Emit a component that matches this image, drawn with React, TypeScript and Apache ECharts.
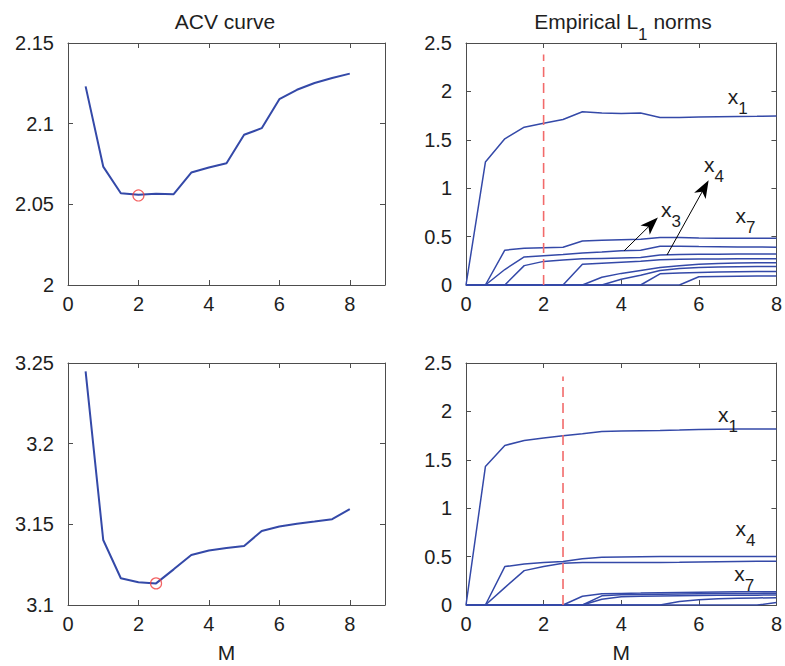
import React, { useEffect, useRef } from "react";
import * as echarts from "echarts";

const FONT = '"Liberation Sans", Arial, Helvetica, sans-serif';
const BLUE = "#3449a8";
const RED = "#f26a6a";
const AXIS = "#4d4d4d";
const TEXT = "#1e1e1e";

// ---------- data ----------
const M_ACV = [0.5, 1, 1.5, 2, 2.5, 3, 3.5, 4, 4.5, 5, 5.5, 6, 6.5, 7, 7.5, 8];
const ACV_TOP = [2.1231, 2.0734, 2.0569, 2.0559, 2.0565, 2.0563, 2.0697, 2.0728, 2.0755, 2.0931, 2.0972, 2.1152, 2.121, 2.1252, 2.1283, 2.131];
const ACV_BOTTOM = [3.2448, 3.1403, 3.1166, 3.1141, 3.1134, 3.1221, 3.131, 3.1338, 3.1354, 3.1366, 3.1459, 3.1486, 3.1503, 3.1517, 3.1532, 3.1594];
const ACV_TOP_MIN = [2, 2.0555];
const ACV_BOTTOM_MIN = [2.5, 3.1134];

const M_L1 = [0, 0.5, 1, 1.5, 2, 2.5, 3, 3.5, 4, 4.5, 5, 5.5, 6, 6.5, 7, 7.5, 8];
const TOP_X1 = [0, 1.27, 1.51, 1.63, 1.67, 1.71, 1.79, 1.776, 1.772, 1.776, 1.731, 1.731, 1.735, 1.738, 1.74, 1.742, 1.745];
const TOP_X7 = [0, 0, 0.36, 0.38, 0.385, 0.39, 0.455, 0.462, 0.468, 0.472, 0.49, 0.49, 0.485, 0.484, 0.483, 0.483, 0.483];
const TOP_X3 = [0, 0, 0.16, 0.29, 0.303, 0.315, 0.33, 0.342, 0.355, 0.36, 0.4, 0.4, 0.397, 0.395, 0.393, 0.392, 0.39];
const TOP_X4 = [0, 0, 0, 0.2, 0.244, 0.258, 0.27, 0.275, 0.28, 0.285, 0.31, 0.315, 0.317, 0.318, 0.319, 0.32, 0.32];
const TOP_D = [0, 0, 0, 0, 0, 0, 0.215, 0.225, 0.235, 0.245, 0.26, 0.265, 0.268, 0.269, 0.27, 0.27, 0.27];
const TOP_E = [0, 0, 0, 0, 0, 0, 0, 0.08, 0.12, 0.15, 0.18, 0.2, 0.215, 0.222, 0.227, 0.229, 0.23];
const TOP_F = [0, 0, 0, 0, 0, 0, 0, 0, 0.06, 0.1, 0.15, 0.17, 0.18, 0.185, 0.188, 0.19, 0.19];
const TOP_G = [0, 0, 0, 0, 0, 0, 0, 0, 0, 0, 0.115, 0.125, 0.13, 0.134, 0.137, 0.139, 0.14];
const TOP_H = [0, 0, 0, 0, 0, 0, 0, 0, 0, 0, 0, 0, 0.085, 0.089, 0.091, 0.092, 0.093];

const BOT_X1 = [0, 1.43, 1.648, 1.7, 1.724, 1.748, 1.769, 1.793, 1.797, 1.8, 1.803, 1.808, 1.814, 1.816, 1.817, 1.817, 1.817];
const BOT_X4 = [0, 0, 0.397, 0.424, 0.438, 0.45, 0.479, 0.493, 0.497, 0.499, 0.5, 0.5, 0.501, 0.501, 0.5, 0.5, 0.5];
const BOT_B = [0, 0, 0.18, 0.355, 0.397, 0.431, 0.438, 0.438, 0.438, 0.439, 0.44, 0.442, 0.445, 0.447, 0.449, 0.451, 0.452];
const BOT_X7 = [0, 0, 0, 0, 0, 0, 0.09, 0.115, 0.12, 0.123, 0.127, 0.13, 0.132, 0.134, 0.136, 0.137, 0.138];
const BOT_D = [0, 0, 0, 0, 0, 0, 0, 0.095, 0.105, 0.108, 0.111, 0.114, 0.116, 0.118, 0.119, 0.12, 0.121];
const BOT_E = [0, 0, 0, 0, 0, 0, 0, 0.06, 0.085, 0.09, 0.093, 0.096, 0.098, 0.1, 0.101, 0.102, 0.103];
const BOT_F = [0, 0, 0, 0, 0, 0, 0, 0, 0, 0, 0, 0.035, 0.055, 0.065, 0.07, 0.073, 0.075];
const BOT_G = [0, 0, 0, 0, 0, 0, 0, 0, 0, 0, 0, 0, 0, 0, 0, 0, 0.025];

const TOP_CUT = [[2, 0], [2, 2.38]];
const BOTTOM_CUT = [[2.5, 0], [2.5, 2.36]];
const TOP_ARROWS = [
  [[4.08, 0.355], [4.78, 0.632]],
  [[5.18, 0.31], [6.14, 1.002]],
];
const TOP_LABELS: [string, number, number][] = [["1", 7.0, 1.95], ["3", 5.28, 0.783], ["4", 6.39, 1.25], ["7", 7.2, 0.714]];
const BOTTOM_LABELS: [string, number, number][] = [["1", 6.75, 1.966], ["4", 7.2, 0.793], ["7", 7.17, 0.321]];

const TOP_LINES = [TOP_X1, TOP_X7, TOP_X3, TOP_X4, TOP_D, TOP_E, TOP_F, TOP_G, TOP_H];
const BOT_LINES = [BOT_X1, BOT_X4, BOT_B, BOT_X7, BOT_D, BOT_E, BOT_F, BOT_G];

// ---------- layout ----------
const GRIDS = [
  { left: 68, top: 43, width: 317, height: 242 },
  { left: 466, top: 43, width: 315, height: 242 },
  { left: 68, top: 363, width: 317, height: 242 },
  { left: 466, top: 363, width: 315, height: 242 },
];
const PANELS = [
  { xMax: 9, yMin: 2, yMax: 2.15, yInt: 0.05, xName: "" },
  { xMax: 8, yMin: 0, yMax: 2.5, yInt: 0.5, xName: "" },
  { xMax: 9, yMin: 3.1, yMax: 3.25, yInt: 0.05, xName: "M" },
  { xMax: 8, yMin: 0, yMax: 2.5, yInt: 0.5, xName: "M" },
];

const ARROW_HEAD = "path://M0,0 L5.5,15 L0,11 L-5.5,15 Z";

const rich = {
  x: { fontFamily: FONT, fontSize: 21, color: TEXT },
  s: { fontFamily: FONT, fontSize: 17, color: TEXT, padding: [24, 0, 0, 0] },
};

function lineSeries(p: number, xs: number[], ys: number[], width: number, extra: any = {}) {
  return {
    type: "line",
    xAxisIndex: 2 * p,
    yAxisIndex: 2 * p,
    data: xs.map((x, i) => [x, ys[i]]),
    showSymbol: false,
    symbol: "none",
    lineStyle: { color: BLUE, width },
    itemStyle: { color: BLUE },
    silent: true,
    z: 2,
    ...extra,
  };
}

function labelsMark(labels: [string, number, number][]) {
  return {
    symbol: "circle",
    symbolSize: 1,
    silent: true,
    itemStyle: { color: "rgba(0,0,0,0)" },
    label: {
      show: true,
      position: "inside",
      color: TEXT,
      formatter: (q: any) => `{x|x}{s|${q.name}}`,
      rich,
    },
    data: labels.map(([s, x, y]) => ({ name: s, coord: [x, y] })),
  };
}

function buildOption() {
  const xAxis: any[] = [];
  const yAxis: any[] = [];
  PANELS.forEach((p, i) => {
    const common = {
      type: "value",
      gridIndex: i,
      axisLine: { show: true, onZero: false, lineStyle: { color: AXIS, width: 1 } },
      axisTick: { show: true, inside: true, length: 5, lineStyle: { color: AXIS } },
      splitLine: { show: false },
    };
    xAxis.push({
      ...common,
      position: "bottom",
      min: 0,
      max: p.xMax,
      interval: 2,
      axisLabel: { show: true, fontFamily: FONT, fontSize: 20, color: TEXT, margin: 9, showMaxLabel: p.xMax === 8 },
      name: p.xName,
      nameLocation: "middle",
      nameGap: 37,
      nameTextStyle: { fontFamily: FONT, fontSize: 21, color: TEXT },
    });
    xAxis.push({ ...common, position: "top", min: 0, max: p.xMax, interval: 2, axisLabel: { show: false } });
    yAxis.push({
      ...common,
      position: "left",
      min: p.yMin,
      max: p.yMax,
      interval: p.yInt,
      axisLabel: { show: true, fontFamily: FONT, fontSize: 20, color: TEXT, margin: 14 },
    });
    yAxis.push({ ...common, position: "right", min: p.yMin, max: p.yMax, interval: p.yInt, axisLabel: { show: false } });
  });

  const series: any[] = [];
  series.push(lineSeries(0, M_ACV, ACV_TOP, 2));
  series.push({
    type: "scatter",
    xAxisIndex: 0,
    yAxisIndex: 0,
    data: [ACV_TOP_MIN],
    symbol: "circle",
    symbolSize: 11,
    itemStyle: { color: "rgba(0,0,0,0)", borderColor: "#f03c3c", borderWidth: 1.2 },
    silent: true,
    z: 5,
  });
  series.push(lineSeries(2, M_ACV, ACV_BOTTOM, 2));
  series.push({
    type: "scatter",
    xAxisIndex: 4,
    yAxisIndex: 4,
    data: [ACV_BOTTOM_MIN],
    symbol: "circle",
    symbolSize: 11,
    itemStyle: { color: "rgba(0,0,0,0)", borderColor: "#f03c3c", borderWidth: 1.2 },
    silent: true,
    z: 5,
  });
  TOP_LINES.forEach((ys, k) => {
    const extra: any = {};
    if (k === 0) {
      extra.markPoint = labelsMark(TOP_LABELS);
      extra.markLine = {
        symbol: ["none", ARROW_HEAD],
        symbolSize: 18,
        symbolKeepAspect: true,
        silent: true,
        lineStyle: { color: "#000", width: 1, type: "solid" },
        itemStyle: { color: "#000" },
        label: { show: false },
        emphasis: { disabled: true },
        data: TOP_ARROWS.map(([a, b]) => [{ coord: a }, { coord: b }]),
      };
    }
    series.push(lineSeries(1, M_L1, ys, 1.5, extra));
  });
  series.push({
    type: "line",
    xAxisIndex: 2,
    yAxisIndex: 2,
    data: TOP_CUT,
    showSymbol: false,
    symbol: "none",
    lineStyle: { color: RED, width: 1.6, type: [10, 6] },
    silent: true,
    z: 3,
  });
  BOT_LINES.forEach((ys, k) => {
    const extra: any = {};
    if (k === 0) extra.markPoint = labelsMark(BOTTOM_LABELS);
    series.push(lineSeries(3, M_L1, ys, 1.5, extra));
  });
  series.push({
    type: "line",
    xAxisIndex: 6,
    yAxisIndex: 6,
    data: BOTTOM_CUT,
    showSymbol: false,
    symbol: "none",
    lineStyle: { color: RED, width: 1.6, type: [10, 6] },
    silent: true,
    z: 3,
  });

  return {
    animation: false,
    backgroundColor: "#fff",
    textStyle: { fontFamily: FONT },
    grid: GRIDS.map((g) => ({ ...g, show: false })),
    xAxis,
    yAxis,
    series,
    graphic: [
      {
        type: "text",
        x: 225,
        y: 21,
        silent: true,
        style: { text: "ACV curve", font: `21px ${FONT}`, fill: TEXT, align: "center", verticalAlign: "middle" },
      },
      {
        type: "text",
        x: 623,
        y: 21,
        silent: true,
        style: {
          text: "{a|Empirical L}{s|1}{a| norms}",
          fill: TEXT,
          align: "center",
          verticalAlign: "middle",
          rich: {
            a: { fontFamily: FONT, fontSize: 21, fill: TEXT },
            s: { fontFamily: FONT, fontSize: 17, fill: TEXT, padding: [26, 0, 0, 0] },
          },
        },
      },
    ],
  };
}

export default function App() {
  const ref = useRef<HTMLDivElement>(null);
  useEffect(() => {
    const chart = echarts.init(ref.current!, null, { renderer: "svg" });
    chart.setOption(buildOption() as any);
    return () => chart.dispose();
  }, []);
  return (
    <div
      ref={ref}
      style={{ position: "absolute", left: 0, top: 0, width: 785, height: 666, background: "#fff" }}
    />
  );
}
